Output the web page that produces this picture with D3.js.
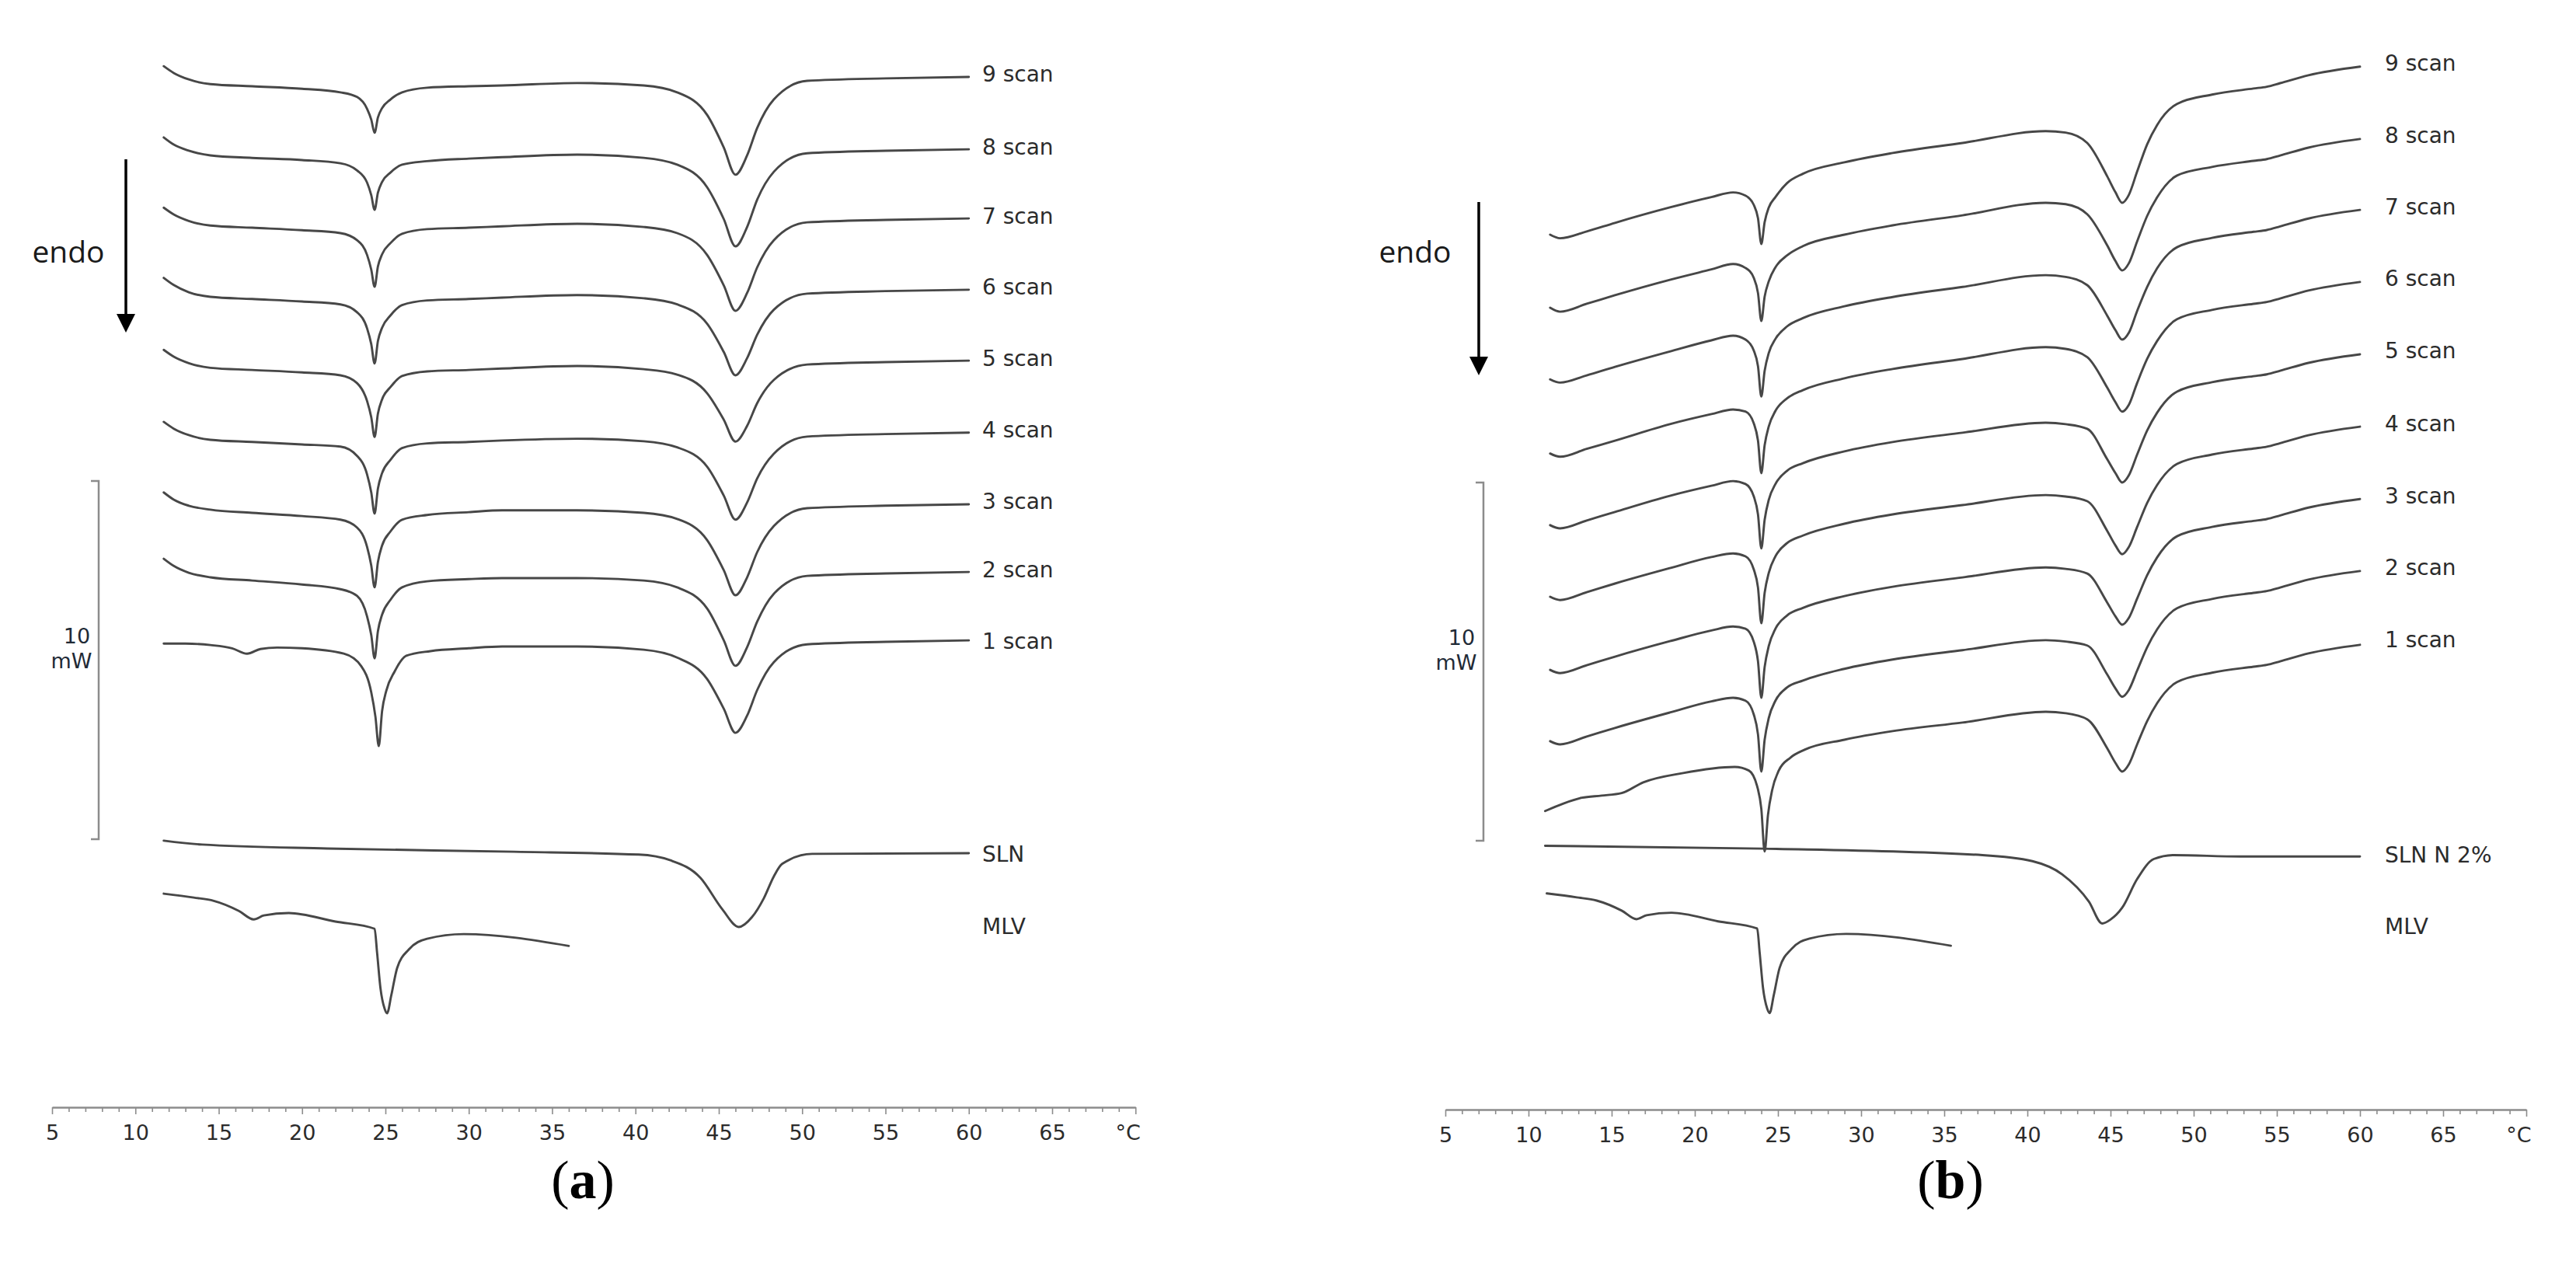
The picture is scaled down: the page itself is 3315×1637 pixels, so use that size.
<!DOCTYPE html>
<html><head><meta charset="utf-8">
<script src="https://cdn.jsdelivr.net/npm/d3@7"></script>
<style>body{margin:0;background:#fff} svg{display:block}</style>
</head><body>
<svg id="c" width="3315" height="1637"></svg>
<script>
// ---------- axis ----------
const majorTicks = [5,10,15,20,25,30,35,40,45,50,55,60,65,70];
const tickLabels = ["5","10","15","20","25","30","35","40","45","50","55","60","65","°C"];

// ---------- panel (a) ----------
const scanNamesA = ["9 scan","8 scan","7 scan","6 scan","5 scan","4 scan","3 scan","2 scan","1 scan"];
const offsetsA = [21.28, 19.26, 17.33, 15.34, 13.36, 11.35, 9.35, 7.46, 5.55];
const tempA = [11.7,12.3,13.2,14.5,17,20,22.3,23.3,23.9,24.15,24.35,24.55,24.8,25.3,26.0,27.5,30,32,36.5,40.5,42.5,44.3,45.3,46.0,46.7,47.3,48.3,50.3,55,60.0];
const scan9A = [0.30,0.11,-0.07,-0.20,-0.26,-0.33,-0.43,-0.56,-0.89,-1.19,-1.56,-1.13,-0.87,-0.63,-0.43,-0.30,-0.26,-0.24,-0.17,-0.24,-0.43,-1.06,-1.97,-2.73,-2.19,-1.43,-0.63,-0.11,-0.04,0];
const scan8A = [0.33,0.13,-0.04,-0.17,-0.24,-0.30,-0.39,-0.59,-0.93,-1.28,-1.69,-1.21,-0.91,-0.65,-0.43,-0.33,-0.26,-0.22,-0.15,-0.24,-0.43,-1.06,-1.95,-2.71,-2.17,-1.41,-0.63,-0.11,-0.04,0];
const scan7A = [0.30,0.11,-0.07,-0.20,-0.26,-0.33,-0.41,-0.61,-1.02,-1.43,-1.91,-1.34,-1.00,-0.69,-0.43,-0.30,-0.26,-0.22,-0.15,-0.24,-0.41,-1.02,-1.87,-2.58,-2.08,-1.37,-0.61,-0.11,-0.04,0];
const scan6A = [0.33,0.13,-0.07,-0.20,-0.26,-0.33,-0.41,-0.63,-1.08,-1.52,-2.06,-1.43,-1.06,-0.72,-0.43,-0.30,-0.26,-0.22,-0.15,-0.24,-0.41,-0.95,-1.74,-2.39,-1.91,-1.26,-0.56,-0.11,-0.04,0];
const scan5A = [0.30,0.11,-0.07,-0.20,-0.26,-0.33,-0.41,-0.63,-1.13,-1.58,-2.13,-1.48,-1.08,-0.74,-0.43,-0.30,-0.26,-0.22,-0.15,-0.24,-0.39,-0.91,-1.65,-2.26,-1.82,-1.19,-0.54,-0.11,-0.04,0];
const scan4A = [0.30,0.11,-0.07,-0.20,-0.26,-0.33,-0.39,-0.65,-1.17,-1.67,-2.26,-1.56,-1.13,-0.76,-0.43,-0.30,-0.26,-0.22,-0.17,-0.24,-0.41,-0.95,-1.76,-2.43,-1.95,-1.28,-0.59,-0.11,-0.04,0];
const scan3A = [0.33,0.13,-0.04,-0.15,-0.24,-0.33,-0.43,-0.65,-1.19,-1.71,-2.32,-1.61,-1.15,-0.76,-0.43,-0.30,-0.22,-0.17,-0.17,-0.24,-0.41,-1.00,-1.84,-2.54,-2.04,-1.34,-0.61,-0.11,-0.04,0];
const scan2A = [0.37,0.17,-0.02,-0.15,-0.24,-0.35,-0.48,-0.67,-1.24,-1.76,-2.41,-1.65,-1.19,-0.78,-0.43,-0.26,-0.20,-0.17,-0.17,-0.24,-0.43,-1.02,-1.91,-2.62,-2.10,-1.39,-0.61,-0.11,-0.04,0];
const temp1A = [11.7,13,14.5,15.8,16.7,17.5,18.5,20,22.5,23.55,24.15,24.4,24.6,24.8,25.05,25.55,26.25,27.7,30,32,36.5,40.5,42.5,44.3,45.3,46.0,46.7,47.3,48.3,50.3,55,60.0];
const scan1A = [-0.09,-0.09,-0.13,-0.22,-0.37,-0.24,-0.20,-0.22,-0.37,-0.72,-1.45,-2.13,-2.95,-1.97,-1.41,-0.87,-0.43,-0.30,-0.22,-0.17,-0.17,-0.26,-0.48,-1.08,-1.91,-2.58,-2.10,-1.39,-0.61,-0.11,-0.04,0];
const slnNameA = "SLN";
const slnOffsetA = -0.39;
const tempSlnA = [11.7,14.0,21.5,32.7,40.2,42.1,43.9,45.2,46.2,47.0,47.7,48.3,48.8,50.6,60.0];
const slnA = [0.35,0.24,0.13,0.04,-0.04,-0.20,-0.69,-1.56,-2.06,-1.78,-1.26,-0.65,-0.30,-0.02,0];
const mlvOffsetA = -2.52;
const tempMlvA = [11.7,13.5,14.7,16.2,17.1,17.7,19.2,22,24.35,24.5,24.7,24.95,25.1,25.35,25.7,26.4,27.5,29.7,36.0];
const mlvA = [1.00,0.89,0.80,0.52,0.28,0.39,0.46,0.22,0.02,-0.65,-1.63,-2.21,-2.34,-1.84,-1.08,-0.56,-0.26,-0.13,-0.46];

// ---------- panel (b) ----------
const scanNamesB = ["9 scan","8 scan","7 scan","6 scan","5 scan","4 scan","3 scan","2 scan","1 scan"];
const offsetsB = [21.61, 19.59, 17.61, 15.60, 13.58, 11.56, 9.54, 7.53, 5.47];
const tempB = [11.3,11.9,13.5,15.2,18.5,21.0,22.3,23.05,23.55,23.8,24.0,24.2,24.45,24.85,25.55,26.5,29.0,31.9,36.1,41.1,42.3,43.6,44.8,45.3,45.7,46.1,46.6,47.2,47.8,49.0,51.1,53.6,54.4,55.2,56.9,60.0];
const scan9B = [-4.69,-4.79,-4.60,-4.36,-3.93,-3.64,-3.51,-3.60,-3.86,-4.23,-4.95,-4.34,-3.93,-3.64,-3.25,-2.99,-2.67,-2.41,-2.13,-1.80,-1.84,-2.13,-3.06,-3.51,-3.80,-3.58,-2.93,-2.17,-1.63,-1.04,-0.78,-0.61,-0.56,-0.46,-0.24,0];
const scan8B = [-4.71,-4.82,-4.60,-4.36,-3.93,-3.64,-3.49,-3.60,-3.88,-4.30,-5.08,-4.40,-3.97,-3.58,-3.25,-2.99,-2.67,-2.41,-2.13,-1.78,-1.82,-2.10,-2.97,-3.41,-3.67,-3.47,-2.86,-2.15,-1.63,-1.02,-0.78,-0.61,-0.56,-0.46,-0.24,0];
const scan7B = [-4.73,-4.82,-4.62,-4.38,-3.95,-3.64,-3.51,-3.62,-3.93,-4.36,-5.21,-4.49,-3.99,-3.60,-3.25,-3.02,-2.69,-2.43,-2.15,-1.82,-1.87,-2.10,-2.95,-3.36,-3.62,-3.43,-2.82,-2.15,-1.63,-1.04,-0.78,-0.61,-0.56,-0.46,-0.24,0];
const scan6B = [-4.79,-4.88,-4.66,-4.43,-3.97,-3.69,-3.56,-3.62,-3.95,-4.43,-5.34,-4.56,-4.03,-3.60,-3.25,-3.02,-2.69,-2.43,-2.15,-1.82,-1.87,-2.10,-2.95,-3.36,-3.62,-3.43,-2.82,-2.15,-1.65,-1.04,-0.78,-0.61,-0.56,-0.46,-0.24,0];
const scan5B = [-4.77,-4.86,-4.64,-4.40,-3.95,-3.67,-3.54,-3.62,-3.97,-4.47,-5.42,-4.62,-4.06,-3.62,-3.25,-3.04,-2.71,-2.45,-2.19,-1.91,-1.95,-2.08,-2.93,-3.32,-3.58,-3.38,-2.80,-2.13,-1.63,-1.04,-0.78,-0.61,-0.56,-0.46,-0.24,0];
const scan4B = [-4.75,-4.84,-4.62,-4.38,-3.95,-3.64,-3.54,-3.62,-3.99,-4.49,-5.49,-4.64,-4.08,-3.62,-3.25,-3.04,-2.71,-2.45,-2.19,-1.91,-1.95,-2.08,-2.91,-3.32,-3.56,-3.36,-2.80,-2.13,-1.63,-1.04,-0.78,-0.61,-0.56,-0.46,-0.24,0];
const scan3B = [-4.77,-4.86,-4.64,-4.40,-3.97,-3.67,-3.56,-3.62,-3.99,-4.53,-5.55,-4.69,-4.10,-3.62,-3.25,-3.04,-2.71,-2.45,-2.19,-1.91,-1.95,-2.08,-2.89,-3.28,-3.51,-3.32,-2.78,-2.13,-1.63,-1.04,-0.78,-0.61,-0.56,-0.46,-0.24,0];
const scan2B = [-4.75,-4.84,-4.62,-4.38,-3.95,-3.64,-3.54,-3.62,-4.01,-4.56,-5.60,-4.71,-4.10,-3.62,-3.25,-3.06,-2.73,-2.47,-2.21,-1.93,-1.97,-2.08,-2.89,-3.28,-3.51,-3.32,-2.78,-2.13,-1.63,-1.04,-0.78,-0.61,-0.56,-0.46,-0.24,0];
const temp1B = [11.0,12.1,13.2,14.4,15.6,16.9,19.3,22.4,23.25,23.75,24.0,24.2,24.4,24.65,25.05,25.75,26.6,29.0,31.9,36.1,41.1,42.3,43.6,44.8,45.3,45.7,46.1,46.6,47.2,47.8,49.0,51.1,53.6,54.4,55.2,56.9,60.0];
const scan1B = [-4.64,-4.43,-4.27,-4.21,-4.14,-3.84,-3.58,-3.41,-3.51,-3.95,-4.58,-5.77,-4.75,-4.06,-3.51,-3.15,-2.93,-2.65,-2.41,-2.17,-1.87,-1.91,-2.08,-2.89,-3.30,-3.54,-3.34,-2.78,-2.13,-1.63,-1.04,-0.78,-0.61,-0.56,-0.46,-0.24,0];
const slnNameB = "SLN N 2%";
const slnOffsetB = -0.44;
const tempSlnB = [11.0,24.0,37.3,40.3,42.1,43.7,44.5,45.0,45.7,46.6,47.6,48.8,52.8,60.0];
const slnB = [0.30,0.22,0.04,-0.13,-0.50,-1.26,-1.87,-1.76,-1.43,-0.63,-0.07,0.04,0,0];
const mlvOffsetB = -2.47;
const tempMlvB = [11.1,12.9,14.1,15.6,16.5,17.1,18.6,21.4,23.75,23.9,24.1,24.35,24.5,24.75,25.1,25.8,26.9,29.1,35.4];
const mlvB = [1.00,0.89,0.80,0.52,0.28,0.39,0.46,0.22,0.02,-0.65,-1.63,-2.21,-2.34,-1.84,-1.08,-0.56,-0.26,-0.13,-0.46];

// ---------- drawing ----------
const svg = d3.select("#c");
const lineColor = "#474747";

function panel(cfg) {
  const g = svg.append("g");
  const x = d3.scaleLinear().domain([5, 70]).range(cfg.xRange);
  const y = d3.scaleLinear().domain([0, 10]).range(cfg.yRange);
  const line = d3.line().x(d => x(d[0])).y(d => y(d[1])).curve(d3.curveMonotoneX);

  cfg.series.forEach(s => {
    const pts = s.T.map((t, i) => [t, s.offset + s.v[i]]);
    g.append("path").attr("d", line(pts)).attr("fill", "none")
      .attr("stroke", lineColor).attr("stroke-width", 2.9)
      .attr("stroke-linejoin", "round").attr("stroke-linecap", "round");
    g.append("text").attr("x", cfg.labelX).attr("y", y(s.offset) + (s.labelDy || 0))
      .attr("dominant-baseline", "central")
      .attr("font-family", "DejaVu Sans").attr("font-size", 28)
      .attr("fill", "#2b2b2b").text(s.name);
  });

  // temperature axis
  const ax = d3.axisBottom(x).tickValues(d3.range(5, 71)).tickSizeOuter(0)
    .tickFormat(d => { const k = majorTicks.indexOf(d); return k >= 0 ? tickLabels[k] : ""; });
  const axg = g.append("g").attr("transform", `translate(0,${cfg.axisY})`).call(ax);
  axg.select(".domain").attr("stroke", "#8c8c8c").attr("stroke-width", 2.5);
  axg.selectAll(".tick line").attr("stroke", "#8c8c8c").attr("stroke-width", 1.6)
    .attr("y2", d => majorTicks.indexOf(d) >= 0 ? 9 : 6);
  axg.selectAll(".tick text").attr("y", 32).attr("dy", "0").attr("dominant-baseline", "central")
    .attr("font-family", "DejaVu Sans").attr("font-size", 27).attr("fill", "#2b2b2b")
    .attr("dx", d => d === 70 ? -10 : 0);

  // 10 mW scale bar
  const bx = cfg.barX;
  g.append("path").attr("d", `M${bx - 10},${y(10)}H${bx}V${y(0)}H${bx - 10}`)
    .attr("fill", "none").attr("stroke", "#8c8c8c").attr("stroke-width", 2.5);
  g.append("text").attr("x", bx - 28).attr("y", y(10) + 199).attr("text-anchor", "middle")
    .attr("dominant-baseline", "central").attr("font-family", "DejaVu Sans").attr("font-size", 27)
    .attr("fill", "#1f2a36").text("10");
  g.append("text").attr("x", bx - 35).attr("y", y(10) + 231).attr("text-anchor", "middle")
    .attr("dominant-baseline", "central").attr("font-family", "DejaVu Sans").attr("font-size", 27)
    .attr("fill", "#1f2a36").text("mW");

  // endo arrow
  const ax0 = cfg.arrowX;
  g.append("line").attr("x1", ax0).attr("x2", ax0).attr("y1", cfg.arrowY[0]).attr("y2", cfg.arrowY[1] - 20)
    .attr("stroke", "#000").attr("stroke-width", 3.5);
  g.append("path").attr("d", `M${ax0 - 12},${cfg.arrowY[1] - 24}L${ax0 + 12},${cfg.arrowY[1] - 24}L${ax0},${cfg.arrowY[1]}Z`)
    .attr("fill", "#000");
  g.append("text").attr("x", cfg.endoX).attr("y", 322).attr("text-anchor", "middle")
    .attr("dominant-baseline", "central").attr("font-family", "Open Sans").attr("font-size", 39)
    .attr("fill", "#1a1a1a").text("endo");

  // panel letter
  const pl = g.append("text").attr("x", cfg.letterX).attr("y", 1542).attr("text-anchor", "middle")
    .attr("font-family", "Liberation Serif").attr("font-size", 70).attr("fill", "#000");
  pl.append("tspan").text("(");
  pl.append("tspan").attr("font-weight", "bold").text(cfg.letter);
  pl.append("tspan").text(")");
}

const scansA = [scan9A, scan8A, scan7A, scan6A, scan5A, scan4A, scan3A, scan2A];
const seriesA = scansA.map((v, i) => ({ name: scanNamesA[i], T: tempA, v, offset: offsetsA[i], labelDy: -3 }));
seriesA.push({ name: scanNamesA[8], T: temp1A, v: scan1A, offset: offsetsA[8], labelDy: 1 });
seriesA.push({ name: slnNameA, T: tempSlnA, v: slnA, offset: slnOffsetA, labelDy: 2 });
seriesA.push({ name: "MLV", T: tempMlvA, v: mlvA, offset: mlvOffsetA, labelDy: -4 });

const scansB = [scan9B, scan8B, scan7B, scan6B, scan5B, scan4B, scan3B, scan2B];
const seriesB = scansB.map((v, i) => ({ name: scanNamesB[i], T: tempB, v, offset: offsetsB[i], labelDy: -4 }));
seriesB.push({ name: scanNamesB[8], T: temp1B, v: scan1B, offset: offsetsB[8], labelDy: -6 });
seriesB.push({ name: slnNameB, T: tempSlnB, v: slnB, offset: slnOffsetB, labelDy: -2 });
seriesB.push({ name: "MLV", T: tempMlvB, v: mlvB, offset: mlvOffsetB, labelDy: -3 });

panel({ xRange: [67, 67 + 65 * 21.45], yRange: [1080, 619], series: seriesA, labelX: 1264, axisY: 1425,
        barX: 127, arrowX: 162, arrowY: [205, 428], endoX: 88, letter: "a", letterX: 750 });
panel({ xRange: [1860, 1860 + 65 * 21.4], yRange: [1082, 621], series: seriesB, labelX: 3069, axisY: 1428,
        barX: 1909, arrowX: 1903, arrowY: [260, 483], endoX: 1821, letter: "b", letterX: 2510 });
</script></body></html>
